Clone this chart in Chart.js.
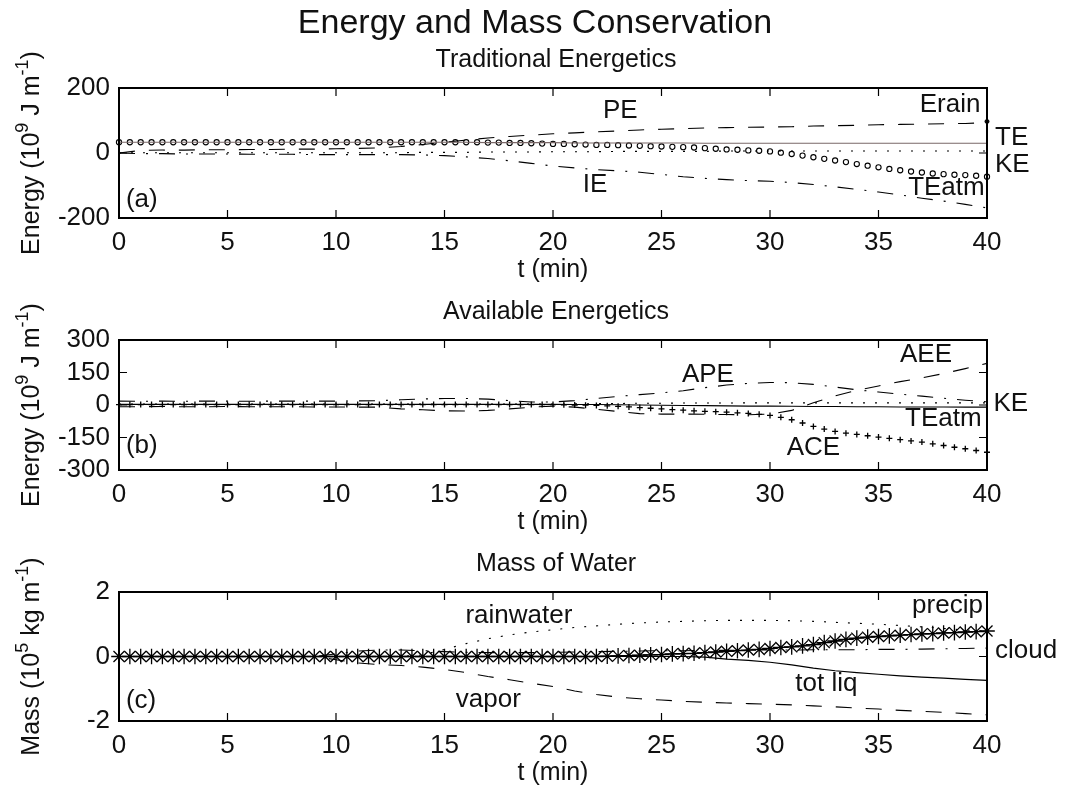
<!DOCTYPE html>
<html lang="en">
<head>
  <meta charset="UTF-8" />
  <title>Energy and Mass Conservation</title>
  <script src="https://cdn.jsdelivr.net/npm/chart.js"></script>
  <style>
    body { margin: 0; background: #fff; }
    #wrap { position: relative; width: 1070px; height: 793px; }
    #wrap canvas { position: absolute; left: 0; top: 0; }
  </style>
</head>
<body>
  <div id="wrap">
    <canvas id="chartA" width="1070" height="793"></canvas>
    <canvas id="chartB" width="1070" height="793"></canvas>
    <canvas id="chartC" width="1070" height="793"></canvas>
  </div>
  <script>
    // ---- data ----
    // time axes, minutes
    const tHalf = [0,0.5,1,1.5,2,2.5,3,3.5,4,4.5,5,5.5,6,6.5,7,7.5,8,8.5,9,9.5,10,10.5,11,11.5,12,12.5,13,13.5,14,14.5,15,15.5,16,16.5,17,17.5,18,18.5,19,19.5,20,20.5,21,21.5,22,22.5,23,23.5,24,24.5,25,25.5,26,26.5,27,27.5,28,28.5,29,29.5,30,30.5,31,31.5,32,32.5,33,33.5,34,34.5,35,35.5,36,36.5,37,37.5,38,38.5,39,39.5,40];
    const tMin = [0,1,2,3,4,5,6,7,8,9,10,11,12,13,14,15,16,17,18,19,20,21,22,23,24,25,26,27,28,29,30,31,32,33,34,35,36,37,38,39,40];
    const xTickVals = [0,5,10,15,20,25,30,35,40];

    // (a) Traditional energetics, 10^9 J m^-1
    const teTotal = [33,33,33,33,33,33,33,33,33,33,33,33,33,33,33,33,33,32,32,32,32,31,31,31,31,31,31,30,30,30,30,30,30,30,30,30,30,30,30,30,30];
    const teAtmA = [33,33,33,33,33,33,33,33,33,33,33,33,33,33,33,33,33,33,33,33,33,33,33,33,33,33,33,33,33,33,33,33,33,33,32,
      32,31,31,30,29,28,28,27,26,25,25,24,23,22,21,20,19,18,17,15,13,11,10,8,7,5,1,-3,-8,-13,-18,-23,-28,-34,-39,-44,-49,-53,-57,-60,-63,-65,-67,-68,-70,-73];
    const pe = [0,8,9,9,10,10,11,11,12,12,13,14,16,20,26,33,40,46,51,55,59,62,65,68,71,73,75,77,78,79,80,81,83,84,85,87,88,89,90,91,93];
    const ie = [0,-2,-2,-3,-3,-3,-4,-4,-4,-5,-5,-5,-5,-5,-6,-8,-12,-17,-24,-32,-40,-46,-51,-55,-59,-66,-73,-78,-82,-85,-87,-91,-97,-104,-112,-120,-129,-139,-148,-158,-169];
    const keA = [0,1,1,1,1,1,1,1,1,1,1,1,1,1,2,2,2,3,3,3,4,4,4,5,5,5,5,5,6,6,6,6,6,6,6,6,6,6,6,6,6];
    const eRainT = [40];
    const eRain = [97];
    const yTicksA = [-200,0,200];

    // (b) Available energetics, 10^9 J m^-1
    const teAtmB = [3,3,3,3,3,3,3,3,3,3,3,3,3,3,3,3,3,3,3,3,3,2,2,1,0,-1,-2,-3,-4,-5,-5,-6,-7,-7,-8,-8,-9,-9,-9,-10,-10];
    const keB = [4,4,4,4,4,4,4,4,4,4,4,4,4,4,4,4,4,4,4,4,4,5,6,7,8,8,9,9,9,10,10,10,10,10,10,10,10,10,10,10,10];
    const ape = [18,17,18,17,18,18,17,18,18,18,18,19,20,24,28,30,30,27,20,14,14,20,30,40,48,56,66,80,92,100,104,103,95,83,70,60,50,41,31,22,15];
    const aee = [-8,-8,-7,-8,-8,-7,-8,-8,-8,-9,-9,-10,-10,-18,-22,-27,-28,-25,-18,-10,-5,-10,-20,-30,-40,-42,-42,-43,-44,-45,-42,-25,10,42,68,88,108,125,145,168,192];
    const ace = [2,2,2,2,2,2,2,2,2,2,2,2,2,2,2,2,2,2,2,2,2,2,2,2,2,2,2,2,2,2,2,2,2,2,2,2,2,2,2,2,2,
      1,0,-1,-2,-4,-6,-9,-12,-15,-18,-21,-24,-27,-29,-31,-33,-36,-39,-43,-48,-57,-68,-83,-99,-111,-122,-130,-136,-142,-148,-154,-160,-166,-171,-179,-187,-195,-202,-210,-218];
    const yTicksB = [-300,-150,0,150,300];

    // (c) Mass of water, 10^5 kg m^-1
    const precip = [0,0,0,0,0,0,0,0,0,0,0,0,0,0,0,0,0,0,0,0,0,0,0,0,0,0,0,0,0,0,0,0,0,0,0,0,0,0,0,0,0,0,0,0,0,
      0.01,0.02,0.03,0.04,0.05,0.06,0.08,0.09,0.1,0.12,0.14,0.16,0.18,0.2,0.22,0.25,0.28,0.3,0.33,0.37,0.43,0.48,0.53,0.57,0.6,0.62,0.64,0.66,0.68,0.7,0.71,0.73,0.74,0.76,0.77,0.79];
    const rainwater = [0,0,0,0,0,0,0,0,0,0,0,0,0,0,0.05,0.22,0.4,0.55,0.67,0.76,0.83,0.9,0.95,1.0,1.04,1.07,1.09,1.11,1.12,1.12,1.12,1.11,1.09,1.06,1.03,1.0,0.96,0.92,0.87,0.82,0.78];
    const vapor = [0,0,0,0,0,0,0,0,0,0,-0.1,-0.2,-0.25,-0.28,-0.33,-0.4,-0.5,-0.62,-0.72,-0.83,-0.93,-1.07,-1.18,-1.26,-1.31,-1.35,-1.39,-1.42,-1.44,-1.46,-1.48,-1.5,-1.53,-1.56,-1.6,-1.63,-1.67,-1.7,-1.73,-1.77,-1.81];
    const cloud = [0,0,0,0,0,0,0,0,0,0,0.08,0.17,0.2,0.2,0.18,0.15,0.13,0.12,0.12,0.12,0.13,0.14,0.15,0.16,0.17,0.18,0.18,0.19,0.19,0.2,0.2,0.2,0.21,0.21,0.21,0.22,0.22,0.23,0.24,0.25,0.26];
    const totLiq = [0,0,0,0,0,0,0,0,0,0,0,0,0,0,0,0,0,0,0,0,0,0,0,0,0,0,0,-0.02,-0.08,-0.12,-0.18,-0.26,-0.36,-0.44,-0.5,-0.55,-0.6,-0.64,-0.67,-0.71,-0.74];
    const yTicksC = [-2,0,2];

    // ---- styling ----
    const FONT = '"Liberation Sans", Arial, Helvetica, sans-serif';
    const INK = '#111';
    const PLOT_LEFT = 119, PLOT_RIGHT = 987, X_AXIS_H = 60, TICK_LEN = 8;
    const DASH = [16, 14], DOT = [2, 10], DASHDOT = [16, 11, 2, 11];

    function pts(times, vals) {
      return times.map((t, i) => ({ x: t, y: vals[i] }));
    }
    function line(times, vals, dash, color) {
      return { data: pts(times, vals), borderColor: color || '#000', borderWidth: 1.1, borderDash: dash || [],
               borderCapStyle: 'butt', pointRadius: 0, fill: false, tension: 0, clip: false };
    }
    function marks(times, vals, style, r, withLine, w) {
      return { data: pts(times, vals), showLine: !!withLine, borderColor: '#000', borderWidth: 1.1,
               pointStyle: style, pointRadius: r, pointBorderColor: '#000', pointBorderWidth: w || 1,
               pointBackgroundColor: 'rgba(0,0,0,0)', tension: 0, clip: false };
    }

    // draw text with raised superscript parts, centred on the origin
    function drawRich(ctx, parts, size) {
      const sup = Math.round(size * 0.7);
      const widths = parts.map(p => { ctx.font = (p.sup ? sup : size) + 'px ' + FONT; return ctx.measureText(p.text).width; });
      let x = -widths.reduce((s, w) => s + w, 0) / 2;
      ctx.textAlign = 'left';
      parts.forEach((p, i) => {
        ctx.font = (p.sup ? sup : size) + 'px ' + FONT;
        ctx.fillText(p.text, x, p.sup ? -size * 0.45 : 0);
        x += widths[i];
      });
    }

    function panelPlugin(p) {
      return {
        id: 'panel' + p.key,
        afterDraw(chart) {
          const ctx = chart.ctx, a = chart.chartArea, xs = chart.scales.x, ys = chart.scales.y;
          ctx.save();
          // inward ticks on all four sides, then the box
          ctx.strokeStyle = '#000';
          ctx.lineWidth = 1.2;
          ctx.beginPath();
          xs.ticks.forEach(tk => {
            const px = xs.getPixelForValue(tk.value);
            ctx.moveTo(px, a.bottom); ctx.lineTo(px, a.bottom - TICK_LEN);
            ctx.moveTo(px, a.top); ctx.lineTo(px, a.top + TICK_LEN);
          });
          ys.ticks.forEach(tk => {
            const py = ys.getPixelForValue(tk.value);
            ctx.moveTo(a.left, py); ctx.lineTo(a.left + TICK_LEN, py);
            ctx.moveTo(a.right, py); ctx.lineTo(a.right - TICK_LEN, py);
          });
          ctx.stroke();
          ctx.lineWidth = 2;
          ctx.strokeRect(a.left, a.top, a.right - a.left, a.bottom - a.top);

          ctx.fillStyle = INK;
          ctx.textBaseline = 'alphabetic';
          const cx = (a.left + a.right) / 2;
          if (p.mainTitle) {
            ctx.font = '34px ' + FONT;
            ctx.textAlign = 'center';
            ctx.fillText(p.mainTitle, 535, 33);
          }
          ctx.font = '25px ' + FONT;
          ctx.textAlign = 'center';
          ctx.fillText(p.subtitle, cx + 3, a.top - 21);
          ctx.fillText('t (min)', cx, a.bottom + 59);

          ctx.save();
          ctx.translate(39, (a.top + a.bottom) / 2);
          ctx.rotate(-Math.PI / 2);
          drawRich(ctx, p.yTitle, 25);
          ctx.restore();

          ctx.font = '26px ' + FONT;
          p.notes.forEach(n => {
            ctx.textAlign = n.align;
            ctx.fillText(n.text, xs.getPixelForValue(n.t), ys.getPixelForValue(n.v));
          });
          ctx.restore();
        }
      };
    }

    function makePanel(p) {
      const tickFont = { family: FONT, size: 26 };
      return new Chart(document.getElementById(p.canvas), {
        type: 'line',
        data: { datasets: p.datasets },
        options: {
          responsive: false,
          animation: false,
          devicePixelRatio: 1,
          events: [],
          layout: { padding: { left: 0, right: 1070 - PLOT_RIGHT, top: p.top, bottom: 793 - p.bottom - X_AXIS_H } },
          plugins: { legend: { display: false }, tooltip: { enabled: false }, title: { display: false } },
          scales: {
            x: {
              type: 'linear', min: 0, max: 40,
              afterBuildTicks: s => { s.ticks = xTickVals.map(v => ({ value: v })); },
              afterFit: s => { s.height = X_AXIS_H; },
              ticks: { font: tickFont, color: INK, padding: 9, maxRotation: 0, autoSkip: false },
              grid: { display: false, drawTicks: false },
              border: { display: false }
            },
            y: {
              type: 'linear', min: p.yTicks[0], max: p.yTicks[p.yTicks.length - 1],
              afterBuildTicks: s => { s.ticks = p.yTicks.map(v => ({ value: v })); },
              afterFit: s => { s.width = PLOT_LEFT; },
              ticks: { font: tickFont, color: INK, padding: 9, autoSkip: false },
              grid: { display: false, drawTicks: false },
              border: { display: false }
            }
          }
        },
        plugins: [panelPlugin(p)]
      });
    }

    const energyTitle = [{ text: 'Energy (10' }, { text: '9', sup: true }, { text: ' J m' }, { text: '-1', sup: true }, { text: ')' }];

    makePanel({
      key: 'A', canvas: 'chartA', top: 88, bottom: 218, yTicks: yTicksA,
      mainTitle: 'Energy and Mass Conservation',
      subtitle: 'Traditional Energetics',
      yTitle: energyTitle,
      datasets: [
        line(tMin, teTotal, [], '#7a6868'),
        marks(tHalf, teAtmA, 'circle', 2.6, false, 1.1),
        line(tMin, pe, DASH),
        line(tMin, ie, DASHDOT),
        line(tMin, keA, DOT),
        Object.assign(marks(eRainT, eRain, 'circle', 2, false), { pointBackgroundColor: '#000' })
      ],
      notes: [
        { text: 'PE', t: 23.1, v: 107, align: 'center' },
        { text: 'Erain', t: 38.3, v: 126, align: 'center' },
        { text: 'TE', t: 40.37, v: 25, align: 'left' },
        { text: 'KE', t: 40.37, v: -57, align: 'left' },
        { text: 'TEatm', t: 38.13, v: -129, align: 'center' },
        { text: 'IE', t: 21.94, v: -119, align: 'center' },
        { text: '(a)', t: 0.32, v: -165, align: 'left' }
      ]
    });

    makePanel({
      key: 'B', canvas: 'chartB', top: 340, bottom: 470, yTicks: yTicksB,
      subtitle: 'Available Energetics',
      yTitle: energyTitle,
      datasets: [
        line(tMin, teAtmB, []),
        line(tMin, keB, DOT),
        line(tMin, ape, DASHDOT),
        line(tMin, aee, DASH),
        marks(tHalf, ace, 'cross', 3, false, 1.3)
      ],
      notes: [
        { text: 'APE', t: 27.14, v: 108, align: 'center' },
        { text: 'AEE', t: 37.19, v: 200, align: 'center' },
        { text: 'KE', t: 40.3, v: -26, align: 'left' },
        { text: 'TEatm', t: 37.99, v: -97, align: 'center' },
        { text: 'ACE', t: 32.0, v: -231, align: 'center' },
        { text: '(b)', t: 0.32, v: -223, align: 'left' }
      ]
    });

    makePanel({
      key: 'C', canvas: 'chartC', top: 592, bottom: 721, yTicks: yTicksC,
      subtitle: 'Mass of Water',
      yTitle: [{ text: 'Mass (10' }, { text: '5', sup: true }, { text: ' kg m' }, { text: '-1', sup: true }, { text: ')' }],
      datasets: [
        marks(tHalf, precip, 'star', 7.8, true, 1.3),
        line(tMin, totLiq, []),
        line(tMin, rainwater, DOT),
        line(tMin, vapor, DASH),
        line(tMin, cloud, DASHDOT)
      ],
      notes: [
        { text: 'rainwater', t: 18.43, v: 1.03, align: 'center' },
        { text: 'precip', t: 38.18, v: 1.34, align: 'center' },
        { text: 'cloud', t: 40.37, v: -0.06, align: 'left' },
        { text: 'tot liq', t: 32.6, v: -1.06, align: 'center' },
        { text: 'vapor', t: 17.02, v: -1.56, align: 'center' },
        { text: '(c)', t: 0.32, v: -1.6, align: 'left' }
      ]
    });
  </script>
</body>
</html>
